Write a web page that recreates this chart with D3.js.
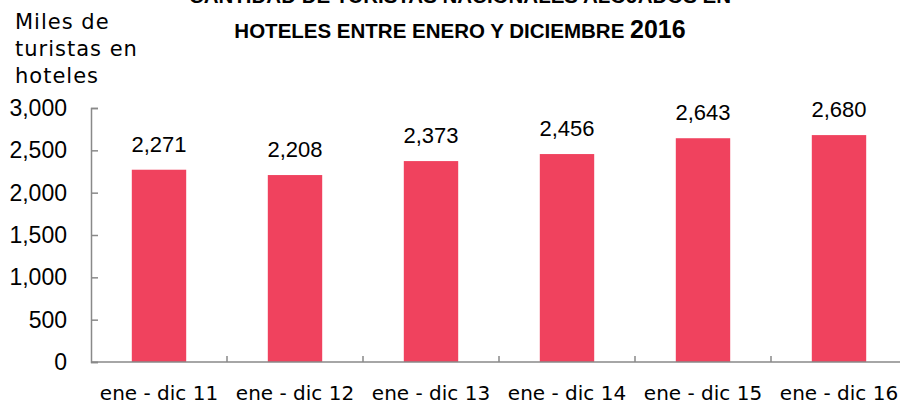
<!DOCTYPE html>
<html>
<head>
<meta charset="utf-8">
<script src="https://cdn.jsdelivr.net/npm/d3@7"></script>
<style>
	body { margin: 0; background: #fff; }
	svg { display: block; }
	.axis path, .axis line { stroke: #898989; stroke-width: 1.5; }
	.axis text { fill: #000; }
</style>
</head>
<body>
<div id="chart"></div>
<script>
(function () {
	"use strict";

	var periods = ['ene - dic 11', 'ene - dic 12', 'ene - dic 13', 'ene - dic 14', 'ene - dic 15', 'ene - dic 16'];
	var tourists = [2271, 2208, 2373, 2456, 2643, 2680];
	var yTicks = [0, 500, 1000, 1500, 2000, 2500, 3000];
	var titleLines = ['CANTIDAD DE TURISTAS NACIONALES ALOJADOS EN', 'HOTELES ENTRE ENERO Y DICIEMBRE '];
	var titleYear = '2016';
	var yTitle = ['Miles de', 'turistas en', 'hoteles'];

	var width = 900, height = 405;
	var margin = { left: 91, top: 108, bottom: 362 };
	var step = 136;

	var svg = d3.select('#chart')
		.append('svg')
		.attr('width', width)
		.attr('height', height);

	var x = d3.scaleBand()
		.domain(periods)
		.range([margin.left, margin.left + step * periods.length])
		.paddingInner(0.6)
		.paddingOuter(0.3);

	var y = d3.scaleLinear()
		.domain([0, 3000])
		.range([margin.bottom, margin.top]);

	var numFont = '"Liberation Sans", Arial, sans-serif';
	var textFont = '"DejaVu Sans", sans-serif';
	var fmt = d3.format(',');

	// bars
	svg.selectAll('.bar')
		.data(tourists)
		.enter()
		.append('rect')
		.classed('bar', true)
		.attr('x', function (d, i) { return x(periods[i]); })
		.attr('y', function (d) { return y(d); })
		.attr('width', x.bandwidth())
		.attr('height', function (d) { return y(0) - y(d); })
		.attr('fill', '#f0425e');

	// value labels
	svg.selectAll('.value')
		.data(tourists)
		.enter()
		.append('text')
		.classed('value', true)
		.attr('x', function (d, i) { return x(periods[i]) + x.bandwidth() / 2; })
		.attr('y', function (d) { return y(d) - 18; })
		.attr('text-anchor', 'middle')
		.style('font-family', numFont)
		.style('font-size', '22px')
		.text(function (d) { return fmt(d); });

	// y axis
	var yAxis = svg.append('g')
		.classed('axis', true)
		.attr('transform', 'translate(' + margin.left + ',0)')
		.call(d3.axisLeft(y).tickValues(yTicks).tickFormat(fmt).tickSizeInner(-7).tickSizeOuter(-7).tickPadding(24));
	yAxis.selectAll('text')
		.style('font-family', numFont)
		.style('font-size', '23px');

	// x axis with ticks between categories
	var xAxis = svg.append('g')
		.classed('axis', true)
		.attr('transform', 'translate(0,' + margin.bottom + ')');
	xAxis.append('line')
		.attr('x1', margin.left)
		.attr('x2', margin.left + step * periods.length);
	xAxis.selectAll('.sep')
		.data(periods.slice(1))
		.enter()
		.append('line')
		.classed('sep', true)
		.attr('x1', function (d) { return x(d) - x.step() * x.paddingInner() / 2; })
		.attr('x2', function (d) { return x(d) - x.step() * x.paddingInner() / 2; })
		.attr('y1', 0)
		.attr('y2', -6);
	xAxis.selectAll('.lbl')
		.data(periods)
		.enter()
		.append('text')
		.classed('lbl', true)
		.attr('x', function (d) { return x(d) + x.bandwidth() / 2; })
		.attr('y', 38)
		.attr('text-anchor', 'middle')
		.style('font-family', textFont)
		.style('font-size', '20px')
		.text(function (d) { return d; });

	// y axis title
	svg.append('text')
		.attr('x', 15)
		.style('font-family', textFont)
		.style('font-size', '21px')
		.style('letter-spacing', '1px')
		.selectAll('tspan')
		.data(yTitle)
		.enter()
		.append('tspan')
		.attr('x', 15)
		.attr('y', function (d, i) { return 29 + i * 27; })
		.text(function (d) { return d; });

	// title
	svg.append('text')
		.attr('x', 460)
		.attr('y', 3)
		.attr('text-anchor', 'middle')
		.style('font-family', numFont)
		.style('font-weight', 'bold')
		.style('font-size', '20.5px')
		.text(titleLines[0]);
	var t2 = svg.append('text')
		.attr('x', 460)
		.attr('y', 38)
		.attr('text-anchor', 'middle')
		.style('font-family', numFont)
		.style('font-weight', 'bold')
		.style('font-size', '20.5px');
	t2.append('tspan').text(titleLines[1]);
	t2.append('tspan').style('font-size', '25px').text(titleYear);
}());
</script>
</body>
</html>
